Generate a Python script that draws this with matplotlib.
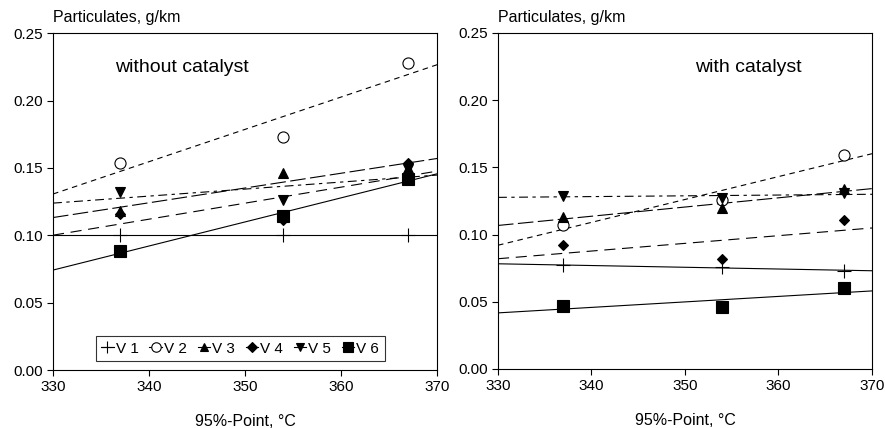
import numpy as np
import matplotlib
matplotlib.use("Agg")
from matplotlib import pyplot as plt
from matplotlib.lines import Line2D

plt.rcParams["font.family"] = ["Liberation Sans", "DejaVu Sans"]

# 95%-point of the fuel, degC
temps = [337, 354, 367]
series = ["V 1", "V 2", "V 3", "V 4", "V 5", "V 6"]

# particulates, g/km, without catalyst
sem_cat = {
    "V 1": [0.100, 0.100, 0.100],
    "V 2": [0.154, 0.173, 0.228],
    "V 3": [0.118, 0.146, 0.150],
    "V 4": [0.116, 0.111, 0.154],
    "V 5": [0.132, 0.126, 0.149],
    "V 6": [0.088, 0.114, 0.142],
}

# particulates, g/km, with catalyst
com_cat = {
    "V 1": [0.077, 0.076, 0.073],
    "V 2": [0.107, 0.126, 0.159],
    "V 3": [0.113, 0.120, 0.134],
    "V 4": [0.092, 0.082, 0.111],
    "V 5": [0.129, 0.127, 0.131],
    "V 6": [0.047, 0.046, 0.060],
}

estilos = {
    "V 1": dict(marker="+", ms=10, mfc="black", ls="-"),
    "V 2": dict(marker="o", ms=8, mfc="white", ls=(0, (5, 4))),
    "V 3": dict(marker="^", ms=7, mfc="black", ls=(0, (14, 4))),
    "V 4": dict(marker="D", ms=5.5, mfc="black", ls=(0, (10, 6))),
    "V 5": dict(marker="v", ms=7, mfc="black", ls=(0, (8, 4, 3, 4))),
    "V 6": dict(marker="s", ms=8, mfc="black", ls="-"),
}


def desenha_painel(ax, dados, texto, pos_texto, legenda=False):
    xs = np.array([330, 370])
    for nome in series:
        est = estilos[nome]
        ax.plot(temps, dados[nome], ls="none", marker=est["marker"], ms=est["ms"],
                mfc=est["mfc"], mec="black", mew=0.8, zorder=3)
        # linha de tendencia linear, como no Excel
        coef = np.polyfit(temps, dados[nome], 1)
        ax.plot(xs, np.polyval(coef, xs), color="black", lw=0.8, ls=est["ls"], zorder=2)

    ax.set_xlim(330, 370)
    ax.set_ylim(0, 0.25)
    ax.set_xticks([330, 340, 350, 360, 370])
    ax.set_yticks([0, 0.05, 0.10, 0.15, 0.20, 0.25])
    ax.set_yticklabels([f"{v:.2f}" for v in ax.get_yticks()])
    ax.tick_params(direction="out", length=4, width=0.8, labelsize=11, color="black")
    for sp in ax.spines.values():
        sp.set_linewidth(0.8)
        sp.set_color("black")
    ax.set_xlabel("95%-Point, °C", fontsize=11.5, labelpad=14)
    ax.text(0, 1.025, "Particulates, g/km", transform=ax.transAxes,
            fontsize=11.5, ha="left", va="bottom")
    ax.text(pos_texto[0], pos_texto[1], texto, transform=ax.transAxes,
            fontsize=14, ha="left", va="baseline")

    if legenda:
        handles = [
            Line2D([], [], color="black", lw=0.8, marker=estilos[n]["marker"],
                   ms=estilos[n]["ms"] * 0.85, mfc=estilos[n]["mfc"], mec="black", mew=0.8)
            for n in series
        ]
        leg = ax.legend(handles, series, loc="lower left", bbox_to_anchor=(0.112, 0.027),
                        ncol=6, fontsize=11, frameon=True, fancybox=False,
                        edgecolor="black", handlelength=0.8, handletextpad=0.15,
                        columnspacing=0.7, borderpad=0.35, borderaxespad=0)
        leg.get_frame().set_linewidth(0.8)


fig = plt.figure(figsize=(8.85, 4.28), dpi=100)
ax1 = fig.add_axes([0.0599, 0.1355, 0.434, 0.787])
ax2 = fig.add_axes([0.5627, 0.1379, 0.4226, 0.785])

desenha_painel(ax1, sem_cat, "without catalyst", (0.162, 0.885), legenda=True)
desenha_painel(ax2, com_cat, "with catalyst", (0.526, 0.885))

fig.savefig("out.png", dpi=100)
